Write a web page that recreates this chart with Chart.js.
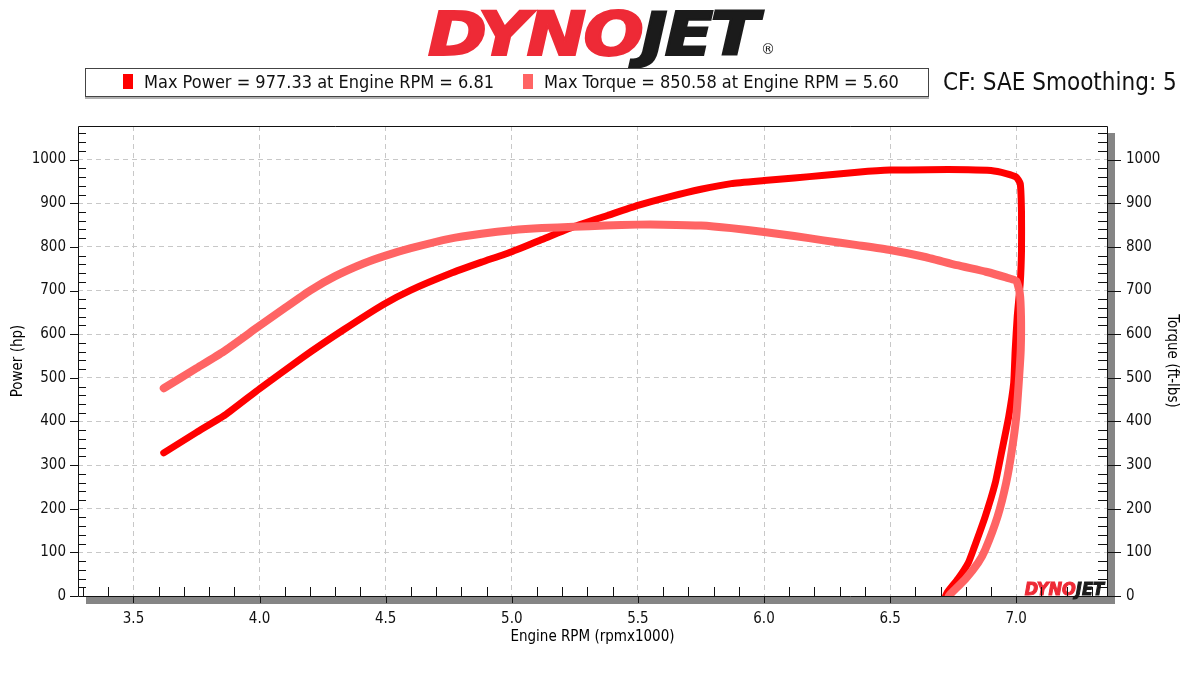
<!DOCTYPE html>
<html>
<head>
<meta charset="utf-8">
<script src="https://cdn.jsdelivr.net/npm/chart.js@4/dist/chart.umd.min.js"></script>
<style>
  body { margin: 0; background: #fff; }
  #wrap { position: relative; width: 1200px; height: 675px; background: #fff; overflow: hidden; }
  #c { position: absolute; left: 0; top: 0; }
  #logo { position: absolute; left: 428px; top: 2px; white-space: nowrap; transform-origin: 0 0; transform: scaleX(1.29);
          font: italic bold 61px 'DejaVu Sans Condensed', 'DejaVu Sans', sans-serif; letter-spacing: -2px; line-height: 64px; }
  #logo .r { color: #ee2a36; -webkit-text-stroke: 2px #ee2a36; }
  #logo .k { color: #1b1b1b; -webkit-text-stroke: 2px #1b1b1b; }
  #reg { position: absolute; left: 761px; top: 41px; font: 14px 'DejaVu Sans', sans-serif; color: #1b1b1b; }
  #legendBox { position: absolute; left: 85px; top: 68px; width: 842px; height: 27px; border: 1px solid #444;
               box-shadow: 0 2px 0 #b0b0b0; background: #fff; }
  .item { position: absolute; top: 0; height: 27px;
          font: 18px 'DejaVu Sans Condensed', 'DejaVu Sans', sans-serif; color: #111; white-space: nowrap; }
  .mark { position: absolute; left: 0; top: 5px; width: 10px; height: 15px; }
  .item span { position: absolute; left: 21px; top: 2px; line-height: 22px; }
  #cf { position: absolute; left: 943px; top: 67px; font: 24px 'DejaVu Sans Condensed', 'DejaVu Sans', sans-serif; color: #111; white-space: nowrap; line-height: 30px; }
</style>
</head>
<body>
<div id="wrap">
  <canvas id="c" width="1200" height="675"></canvas>
  <div id="logo"><span class="r">DYNO</span><span class="k">JET</span></div>
  <div id="reg">®</div>
  <div id="legendBox"></div>
  <div id="cf">CF: SAE Smoothing: 5</div>
</div>
<script>
// power run, engine rpm in thousands
const powerRpm = [3.62, 3.75, 3.864, 4.0, 4.174, 4.333, 4.491, 4.6, 4.756, 4.88, 5.0, 5.12, 5.245, 5.38, 5.5, 5.62, 5.75, 5.87, 6.0, 6.12, 6.24, 6.37, 6.5, 6.65, 6.81, 6.9, 6.96, 7.0, 7.016, 7.021, 7.021, 7.016, 7.004, 6.996, 6.99, 6.97, 6.944, 6.917, 6.877, 6.83, 6.81, 6.77, 6.725, 6.72];
const powerHp = [328, 375, 415, 475, 548, 610, 668, 701, 739, 765, 789, 817, 846, 872, 895, 914, 932, 945, 952, 958, 964, 971, 976, 977, 977, 975, 968, 960, 945, 880, 792, 717, 640, 564, 488, 410, 335, 259, 182, 106, 76, 40, 7, 0];

const torqueRpm = [3.62, 3.75, 3.857, 3.99, 4.1, 4.2, 4.3, 4.412, 4.5, 4.6, 4.756, 4.88, 5.0, 5.12, 5.245, 5.37, 5.5, 5.6, 5.75, 5.87, 6.0, 6.12, 6.236, 6.37, 6.5, 6.63, 6.765, 6.88, 6.96, 7.0, 7.014, 7.019, 7.018, 7.01, 7.0, 6.983, 6.96, 6.926, 6.877, 6.849, 6.8, 6.74, 6.733];
const torqueLbft = [476, 522, 560, 615, 660, 700, 733, 762, 780, 797, 819, 830, 838, 843, 846, 849, 851, 851, 849, 843, 834, 825, 815, 804, 793, 778, 758, 743, 730, 722, 695, 640, 564, 488, 410, 335, 259, 182, 106, 76, 40, 5, 0];

const legendLabels = ['Max Power = 977.33 at Engine RPM = 6.81', 'Max Torque = 850.58 at Engine RPM = 5.60'];
const seriesColors = ['#ff0000', '#ff6464'];
const legendLeft = [37, 437];

const box = document.getElementById('legendBox');
legendLabels.forEach((txt, i) => {
  const d = document.createElement('div');
  d.className = 'item';
  d.style.left = legendLeft[i] + 'px';
  d.innerHTML = `<div class="mark" style="background:${seriesColors[i]}"></div><span>${txt}</span>`;
  box.appendChild(d);
});

const FONT = "'DejaVu Sans Condensed', 'DejaVu Sans', sans-serif";

// frame, inward minor ticks, grey shadow, small watermark
const framePlugin = {
  id: 'frame',
  beforeDraw(chart) {
    const {ctx, chartArea: a} = chart;
    ctx.save();
    ctx.fillStyle = '#858585';
    ctx.fillRect(a.left + 8, a.bottom + 1, a.right - a.left, 7);
    ctx.fillRect(a.right + 1, a.top + 7, 7, a.bottom - a.top + 1);
    ctx.restore();
  },
  afterDraw(chart) {
    const {ctx, chartArea: a, scales} = chart;
    const x = scales.x, y = scales.y;
    ctx.save();
    // watermark
    ctx.font = 'italic bold 18px ' + FONT;
    ctx.textBaseline = 'alphabetic';
    ctx.textAlign = 'left';
    ctx.lineWidth = 1;
    const w1 = ctx.measureText('DYNO').width, w2 = ctx.measureText('JET').width;
    const wx = a.right - 3 - w1 - w2;
    ctx.fillStyle = ctx.strokeStyle = '#ee2a36';
    ctx.fillText('DYNO', wx, a.bottom - 1);
    ctx.strokeText('DYNO', wx, a.bottom - 1);
    ctx.fillStyle = ctx.strokeStyle = '#1b1b1b';
    ctx.fillText('JET', wx + w1, a.bottom - 1);
    ctx.strokeText('JET', wx + w1, a.bottom - 1);

    ctx.strokeStyle = '#111';
    ctx.lineWidth = 1;
    ctx.beginPath();
    ctx.rect(Math.round(a.left) + 0.5, Math.round(a.top) + 0.5, Math.round(a.right - a.left), Math.round(a.bottom - a.top));
    ctx.stroke();

    ctx.beginPath();
    for (let k = 33; k <= 73; k++) {
      const px = Math.round(x.getPixelForValue(k / 10)) + 0.5;
      if (k % 5 === 0) {
        ctx.moveTo(px, a.bottom); ctx.lineTo(px, a.bottom + 7);
      } else {
        ctx.moveTo(px, a.bottom); ctx.lineTo(px, a.bottom - 9);
      }
    }
    for (let v = 0; v <= 1060; v += 20) {
      const py = Math.round(y.getPixelForValue(v)) + 0.5;
      if (v % 100 === 0) {
        ctx.moveTo(a.left - 8, py); ctx.lineTo(a.left, py);
        ctx.moveTo(a.right, py); ctx.lineTo(a.right + 14, py);
      } else {
        ctx.moveTo(a.left, py); ctx.lineTo(a.left + 8, py);
        ctx.moveTo(a.right, py); ctx.lineTo(a.right - 9, py);
      }
    }
    ctx.stroke();
    ctx.restore();
  }
};

const tickFont = { family: FONT, size: 15 };
const titleFont = { family: FONT, size: 15 };

new Chart(document.getElementById('c'), {
  type: 'scatter',
  data: {
    datasets: [
      {
        label: 'Power',
        data: powerRpm.map((v, i) => ({ x: v, y: powerHp[i] })),
        yAxisID: 'y',
        showLine: true,
        borderColor: seriesColors[0],
        borderWidth: 7,
        pointRadius: 0,
        tension: 0.15,
        borderCapStyle: 'round',
        borderJoinStyle: 'round',
        order: 2,
        clip: 0
      },
      {
        label: 'Torque',
        data: torqueRpm.map((v, i) => ({ x: v, y: torqueLbft[i] })),
        yAxisID: 'y2',
        showLine: true,
        borderColor: seriesColors[1],
        borderWidth: 8,
        pointRadius: 0,
        tension: 0.15,
        borderCapStyle: 'round',
        borderJoinStyle: 'round',
        order: 1,
        clip: 0
      }
    ]
  },
  options: {
    responsive: false,
    animation: false,
    layout: { padding: { top: 126, left: 0, right: 15, bottom: 25 } },
    plugins: { legend: { display: false }, tooltip: { enabled: false } },
    scales: {
      x: {
        type: 'linear',
        min: 3.28,
        max: 7.36,
        afterFit: s => { s.height = 54; },
        ticks: { stepSize: 0.5, includeBounds: false, autoSkip: false, maxRotation: 0,
                 callback: v => v.toFixed(1), font: tickFont, color: '#111', padding: 14 },
        grid: { color: '#c8c8c8', drawTicks: false },
        border: { display: false, dash: [5, 4] },
        title: { display: true, text: 'Engine RPM (rpmx1000)', font: titleFont, color: '#000', padding: { top: 4, bottom: 4 } }
      },
      y: {
        position: 'left',
        min: 0,
        max: 1077,
        afterFit: s => { s.width = 78; },
        ticks: { stepSize: 100, includeBounds: false, callback: v => String(v), font: tickFont, color: '#111', padding: 12 },
        grid: { color: '#c8c8c8', drawTicks: false },
        border: { display: false, dash: [5, 4] },
        title: { display: true, text: 'Power (hp)', font: titleFont, color: '#000', padding: { top: 9, bottom: 4 } }
      },
      y2: {
        position: 'right',
        min: 0,
        max: 1077,
        afterFit: s => { s.width = 78; },
        ticks: { stepSize: 100, includeBounds: false, callback: v => String(v), font: tickFont, color: '#111', padding: 19 },
        grid: { drawOnChartArea: false, drawTicks: false },
        border: { display: false },
        title: { display: true, text: 'Torque (ft-lbs)', font: titleFont, color: '#000', padding: { top: 4, bottom: 4 } }
      }
    }
  },
  plugins: [framePlugin]
});
</script>
</body>
</html>
